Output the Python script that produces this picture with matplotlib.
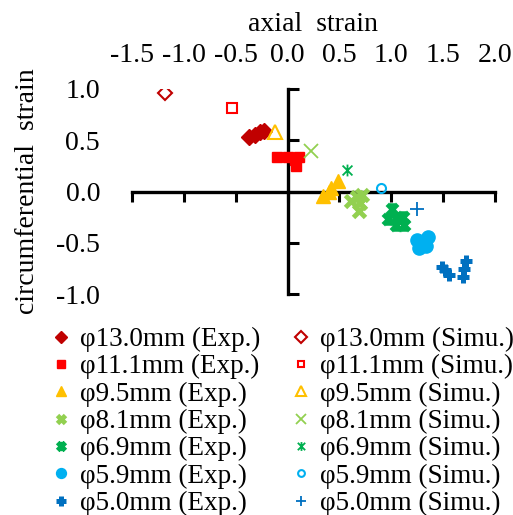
from matplotlib import pyplot as plt
from matplotlib.path import Path

plt.rcParams['font.family'] = ['Liberation Serif', 'DejaVu Serif']

# 実験値 (Exp.)
exp_13_x = [-0.37, -0.31, -0.27, -0.23]
exp_13_y = [0.53, 0.55, 0.58, 0.59]
exp_11_x = [-0.10, 0.0, 0.07, 0.11, 0.08]
exp_11_y = [0.34, 0.34, 0.31, 0.34, 0.245]
exp_95_x = [0.34, 0.40, 0.42, 0.49]
exp_95_y = [-0.04, 0.0, 0.03, 0.10]
exp_81_x = [0.61, 0.67, 0.72, 0.70, 0.69]
exp_81_y = [-0.09, -0.05, -0.03, -0.11, -0.19]
exp_69_x = [1.01, 0.97, 1.05, 1.11, 1.05, 1.12]
exp_69_y = [-0.17, -0.27, -0.26, -0.25, -0.33, -0.33]
exp_59_x = [1.25, 1.35, 1.27, 1.33]
exp_59_y = [-0.47, -0.44, -0.55, -0.53]
exp_50_x = [1.49, 1.56, 1.52, 1.72, 1.70, 1.69]
exp_50_y = [-0.74, -0.81, -0.77, -0.68, -0.76, -0.83]

# 解析値 (Simu.)
simu_x = [-1.18, -0.54, -0.125, 0.23, 0.575, 0.90, 1.25]
simu_y = [0.96, 0.81, 0.58, 0.40, 0.21, 0.03, -0.17]

labels = ['φ13.0mm', 'φ11.1mm', 'φ9.5mm', 'φ8.1mm', 'φ6.9mm', 'φ5.9mm', 'φ5.0mm']
colors = ['#C00000', '#FF0000', '#FFC000', '#92D050', '#00B050', '#00B0F0', '#0070C0']

x_ticks = [-1.5, -1.0, -0.5, 0.0, 0.5, 1.0, 1.5, 2.0]
y_ticks = [-1.0, -0.5, 0.0, 0.5, 1.0]

# アスタリスク型マーカー (x + 縦線)
star = Path([(-1, -1), (1, 1), (-1, 1), (1, -1), (0, -1.2), (0, 1.2)],
            [Path.MOVETO, Path.LINETO] * 3)

exp_data = [(exp_13_x, exp_13_y), (exp_11_x, exp_11_y), (exp_95_x, exp_95_y),
            (exp_81_x, exp_81_y), (exp_69_x, exp_69_y), (exp_59_x, exp_59_y),
            (exp_50_x, exp_50_y)]
exp_style = [dict(marker='D', ms=8), dict(marker='s', ms=7.5), dict(marker='^', ms=10),
             dict(marker='x', ms=8, mew=3.5), dict(marker=star, ms=9, mew=3.5),
             dict(marker='o', ms=9.5), dict(marker='+', ms=9, mew=3.6)]
simu_style = [dict(marker='D', ms=7.5, mfc='none', mew=1.5), dict(marker='s', ms=6.5, mfc='none', mew=1.5),
              dict(marker='^', ms=10, mfc='none', mew=1.5), dict(marker='x', ms=9.5, mew=1.3),
              dict(marker=star, ms=8.5, mew=1.3), dict(marker='o', ms=6.5, mfc='none', mew=1.5),
              dict(marker='+', ms=10, mew=1.3)]

fig = plt.figure(figsize=(5.13, 5.15), dpi=100)
ax = fig.add_axes([132 / 513, 221 / 515, 363 / 513, 205 / 515])

handles = []
for (xs, ys), st, c, lab in zip(exp_data, exp_style, colors, labels):
  h, = ax.plot(xs, ys, linestyle='none', color=c, mec=c, label=lab + ' (Exp.)', zorder=3, **st)
  handles.append(h)
for i, (st, c, lab) in enumerate(zip(simu_style, colors, labels)):
  h, = ax.plot(simu_x[i], simu_y[i], linestyle='none', color=c, mec=c, label=lab + ' (Simu.)', zorder=3, **st)
  handles.append(h)

ax.set_xlim(-1.5, 2.0)
ax.set_ylim(-1.0, 1.0)
for s in ['top', 'right']:
  ax.spines[s].set_visible(False)
ax.spines['left'].set_position(('data', 0))
ax.spines['bottom'].set_position(('data', 0))
ax.spines['left'].set_linewidth(2.4)
ax.spines['bottom'].set_linewidth(2.4)
ax.set_xticks(x_ticks)
ax.set_yticks(y_ticks)
ax.tick_params(axis='x', direction='out', length=7, width=2.2, labelbottom=False)
ax.tick_params(axis='y', direction='in', length=8, width=2.2, labelleft=False)

# 目盛ラベルはグラフ外側に表示
secx = ax.secondary_xaxis('top')
secx.set_xticks(x_ticks)
secx.set_xticklabels(['%.1f' % v for v in x_ticks])
secx.spines['top'].set_visible(False)
secx.tick_params(length=0, pad=15.4, labelsize=20)
secx.set_xlabel('axial  strain', fontsize=20, labelpad=8)

secy = ax.secondary_yaxis('left')
secy.set_yticks(y_ticks)
secy.set_yticklabels(['%.1f' % v for v in y_ticks])
secy.spines['left'].set_visible(False)
secy.tick_params(length=0, pad=23, labelsize=20)
secy.set_ylabel('circumferential  strain', fontsize=20, labelpad=12)

fig.legend(handles=handles, ncol=2, loc='upper left', bbox_to_anchor=(50 / 513, 1 - 327 / 515),
           frameon=False, fontsize=19.5, markerscale=0.75, handlelength=0.8, handletextpad=0.3,
           columnspacing=1.1, labelspacing=0.08, borderpad=0, borderaxespad=0)

fig.savefig('out.png', dpi=100)
